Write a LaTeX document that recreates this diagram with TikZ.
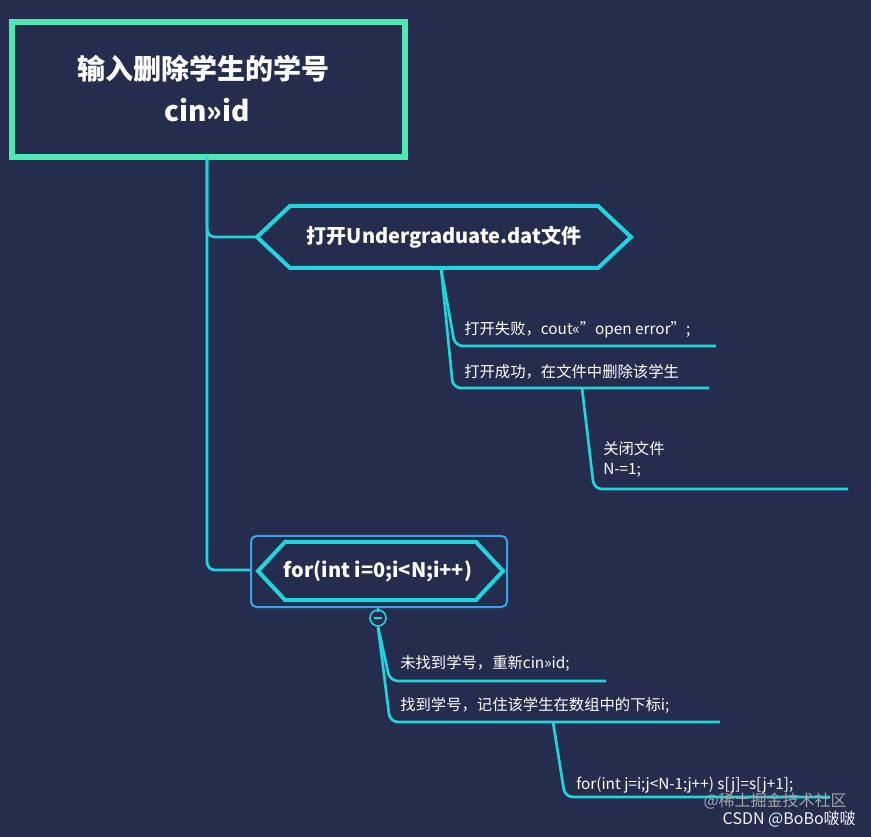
\documentclass[tikz,border=0pt]{standalone}
\usepackage{fontspec}
\setmainfont{Noto Sans CJK SC}
\begin{document}
\begin{tikzpicture}[x=0.75pt,y=-0.75pt,
  every node/.style={inner sep=0pt},
  conn/.style={draw=cyanline,line width=2pt,rounded corners=6pt},
  hexa/.style={draw=cyanline,line width=3pt,fill=bgc},
  lbl/.style={text=white,font=\fontsize{11.5pt}{14pt}\selectfont,anchor=west,align=left},
  big/.style={text=white,font=\bfseries\fontsize{15pt}{18pt}\selectfont}]
\definecolor{bgc}{HTML}{252D4F}
\definecolor{cyanline}{HTML}{1FD6DE}
\definecolor{greenb}{HTML}{4DE8B4}
\definecolor{blueb}{HTML}{3BA3E6}
\fill[bgc] (0,0) rectangle (871,837);
\useasboundingbox (0,0) rectangle (871,837);
% title
\draw[greenb,line width=4pt] (12,22) rectangle (405,157);
\node[text=white,font=\bfseries\fontsize{21pt}{25pt}\selectfont] (t1) at (203,69) {输入删除学生的学号};
\node[text=white,font=\bfseries\fontsize{21pt}{25pt}\selectfont] (t2) at (207,110) {cin>>id};
\coordinate (tb) at (207,157);
% trunk
\coordinate (h1l) at (257,237);
\coordinate (h2l) at (252,570);
\draw[conn] (tb) -- (207,237) -- (h1l);
\draw[conn] (tb) -- (207,570) -- (h2l);
% hexagon 1
\draw[hexa] (257,237) -- (290,206) -- (598,206) -- (631,237) -- (598,268) -- (290,268) -- cycle;
\node[big] (h1) at (444,237) {打开Undergraduate.dat文件};
\coordinate (h1b) at (441,268);
\coordinate (e1) at (716,346);
\coordinate (e2) at (709,388);
\draw[conn] (h1b) -- (455,346) -- (e1);
\draw[conn] (h1b) -- (453,388) -- (e2);
\node[lbl] (l1) at (464,330) {打开失败，cout<<"open error";};
\node[lbl] (l2) at (464,372) {打开成功，在文件中删除该学生};
\coordinate (b2) at (582,388);
\coordinate (e3) at (848,489);
\draw[conn] (b2) -- (594,489) -- (e3);
\node[lbl,anchor=north west,font=\fontsize{11.5pt}{15pt}\selectfont] (l3) at (603,441) {关闭文件\\N-=1;};
% for node
\draw[blueb,line width=1.5pt,rounded corners=4pt,fill=bgc] (251,536) rectangle (507,607);
\draw[hexa] (258,571) -- (285,542) -- (476,542) -- (503,571) -- (476,600) -- (285,600) -- cycle;
\node[big] (h2) at (378,571) {for(int i=0;i<N;i++)};
\draw[cyanline,line width=1.2pt] (378,607) -- (378,612);
\node[draw=cyanline,line width=1.2pt,circle,minimum size=12pt] (mn) at (378,618) {};
\draw[cyanline,line width=1.2pt] (374,618) -- (382,618);
\coordinate (e4) at (606,681);
\coordinate (e5) at (720,722);
\draw[conn] (mn.south) -- (390,681) -- (e4);
\draw[conn] (mn.south) -- (390,722) -- (e5);
\node[lbl] (l4) at (400,663) {未找到学号，重新cin>>id;};
\node[lbl] (l5) at (400,705) {找到学号，记住该学生在数组中的下标i;};
\coordinate (b5) at (553,722);
\coordinate (e6) at (830,797);
\draw[conn] (b5) -- (565,797) -- (e6);
\node[lbl] (l6) at (576,785) {for(int j=i;j<N-1;j++) s[j]=s[j+1];};
% watermark
\node[text=gray!70,font=\fontsize{12pt}{14pt}\selectfont,anchor=east] (w1) at (847,801) {@稀土掘金技术社区};
\node[text=white!90!gray,font=\fontsize{12pt}{14pt}\selectfont,anchor=east] (w2) at (856,819) {CSDN @BoBo啵啵};
\end{tikzpicture}
\end{document}
